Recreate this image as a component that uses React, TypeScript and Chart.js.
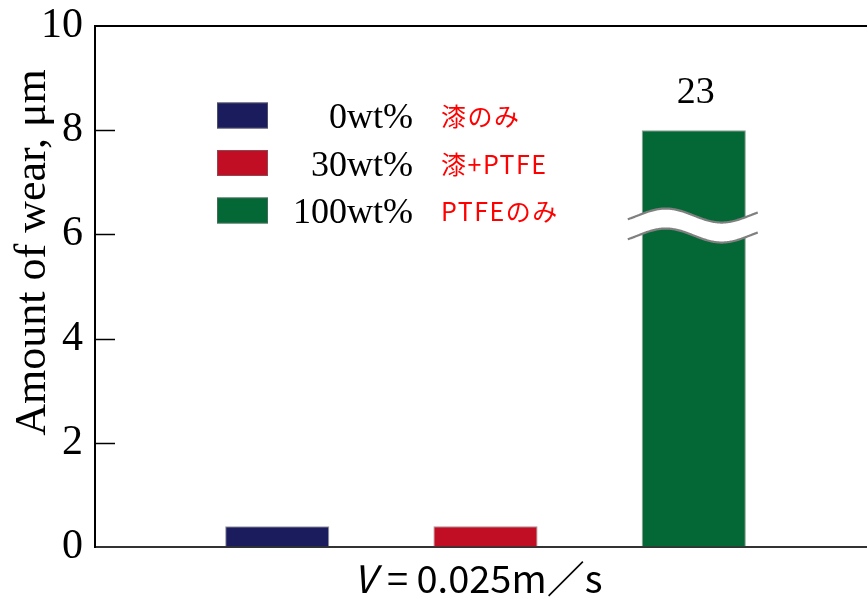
import React, { useEffect, useRef } from "react";
import { Chart, registerables } from "chart.js";

Chart.register(...registerables);

// ---- data ----
const categories = ["V = 0.025m／s"];
const seriesLabels = ["0wt%", "30wt%", "100wt%"];
const seriesNotes = ["漆のみ", "漆+PTFE", "PTFEのみ"];
const wearValues = [0.4, 0.4, 23];
const seriesColors = ["#1b1c5e", "#c20e24", "#036835"];
const yTicks = [0, 2, 4, 6, 8, 10];
const yTitle = "Amount of wear, μm";
const Y_MAX = 10;
const BROKEN_BAR_VALUE = 8; // drawn height of a bar that exceeds the axis
const BREAK_AT = 6.17; // axis value where the break mark sits

const SERIF = '"Liberation Serif", "Times New Roman", serif';
const SANS_JP = '"Noto Sans CJK JP", "Noto Sans", sans-serif';

const decorPlugin = {
  id: "decor",
  afterDatasetsDraw(chart: any) {
    const { ctx, chartArea: ca, scales } = chart;
    const y = scales.y;
    const x = scales.x;
    ctx.save();

    // top frame line
    ctx.strokeStyle = "#000";
    ctx.lineWidth = 2;
    ctx.beginPath();
    ctx.moveTo(ca.left, ca.top);
    ctx.lineTo(ca.right, ca.top);
    ctx.stroke();

    // inward tick marks
    ctx.lineWidth = 1.5;
    yTicks.forEach((v) => {
      if (v === 0 || v === Y_MAX) return;
      const py = Math.round(y.getPixelForValue(v)) + 0.5;
      ctx.beginPath();
      ctx.moveTo(ca.left, py);
      ctx.lineTo(ca.left + 20, py);
      ctx.stroke();
    });

    // break marks + true value labels
    wearValues.forEach((v, i) => {
      if (v <= Y_MAX) return;
      const bar = chart.getDatasetMeta(i).data[0];
      const cx = bar.x;
      const c = y.getPixelForValue(BREAK_AT);
      const x0 = cx - 66;
      const x1 = cx + 64;
      const crest = cx - 28;
      const f = (px: number) => c - 10 - 7 * Math.cos((2 * Math.PI * (px - crest)) / 112);
      ctx.beginPath();
      for (let px = x0; px <= x1; px++) {
        if (px === x0) ctx.moveTo(px, f(px));
        else ctx.lineTo(px, f(px));
      }
      for (let px = x1; px >= x0; px--) ctx.lineTo(px, f(px) + 20);
      ctx.closePath();
      ctx.fillStyle = "#fff";
      ctx.fill();
      ctx.strokeStyle = "#808080";
      ctx.lineWidth = 2.2;
      [0, 20].forEach((off) => {
        ctx.beginPath();
        for (let px = x0; px <= x1; px++) {
          if (px === x0) ctx.moveTo(px, f(px) + off);
          else ctx.lineTo(px, f(px) + off);
        }
        ctx.stroke();
      });
      ctx.fillStyle = "#000";
      ctx.font = `38px ${SERIF}`;
      ctx.textAlign = "center";
      ctx.textBaseline = "alphabetic";
      ctx.fillText(String(v), cx + 2, bar.y - 27);
    });

    // legend
    const boxLeft = 217, boxW = 51, boxH = 26, textRight = 413, noteLeft = 441;
    const rowTop = 115.5, rowGap = 47.5;
    chart.data.datasets.forEach((ds: any, i: number) => {
      const cy = rowTop + i * rowGap;
      ctx.fillStyle = ds.backgroundColor;
      ctx.fillRect(boxLeft, cy - boxH / 2, boxW, boxH);
      ctx.strokeStyle = "rgba(110,110,110,0.6)";
      ctx.lineWidth = 1;
      ctx.strokeRect(boxLeft + 0.5, cy - boxH / 2 + 0.5, boxW - 1, boxH - 1);
      ctx.fillStyle = "#000";
      ctx.font = `36px ${SERIF}`;
      ctx.textAlign = "right";
      ctx.textBaseline = "alphabetic";
      ctx.fillText(ds.label, textRight, cy + 12.5);
      ctx.fillStyle = "#ff0000";
      ctx.font = `25px ${SANS_JP}`;
      ctx.textAlign = "left";
      ctx.textBaseline = "middle";
      (ctx as any).letterSpacing = "1.5px";
      ctx.fillText(seriesNotes[i], noteLeft, cy + 1);
      (ctx as any).letterSpacing = "0px";
    });

    // y title
    ctx.save();
    ctx.translate(45, (ca.top + ca.bottom) / 2 - 34);
    ctx.rotate(-Math.PI / 2);
    ctx.fillStyle = "#000";
    ctx.font = `44px ${SERIF}`;
    ctx.textAlign = "center";
    ctx.textBaseline = "alphabetic";
    ctx.fillText(yTitle, 0, 0);
    ctx.restore();

    // x category label with italic V
    const label = categories[0];
    const head = label.slice(0, 1);
    const rest = label.slice(1);
    ctx.fillStyle = "#000";
    ctx.textAlign = "left";
    ctx.textBaseline = "alphabetic";
    ctx.font = `italic 38px ${SANS_JP}`;
    const wHead = ctx.measureText(head).width;
    ctx.font = `38px ${SANS_JP}`;
    const wRest = ctx.measureText(rest).width;
    const center = x.getPixelForValue(0) - 9;
    const start = center - (wHead + wRest) / 2;
    ctx.font = `italic 38px ${SANS_JP}`;
    ctx.fillText(head, start, ca.bottom + 46);
    ctx.font = `38px ${SANS_JP}`;
    ctx.fillText(rest, start + wHead + 3, ca.bottom + 46);

    ctx.restore();
  },
};

export default function App() {
  const ref = useRef<HTMLCanvasElement | null>(null);

  useEffect(() => {
    if (!ref.current) return;
    const chart = new Chart(ref.current, {
      type: "bar",
      data: {
        labels: categories,
        datasets: seriesLabels.map((label, i) => ({
          label,
          data: [wearValues[i] > Y_MAX ? BROKEN_BAR_VALUE : wearValues[i]],
          backgroundColor: seriesColors[i],
          borderColor: "rgba(70,70,70,0.55)",
          borderWidth: 1,
          categoryPercentage: 0.8,
          barPercentage: 0.5,
        })),
      },
      options: {
        responsive: false,
        maintainAspectRatio: false,
        animation: false,
        layout: { padding: { top: 26, left: 0, right: 4, bottom: 54 } },
        plugins: {
          legend: { display: false },
          tooltip: { enabled: false },
        },
        scales: {
          x: {
            type: "category",
            ticks: { display: false },
            grid: { drawOnChartArea: false, drawTicks: false },
            border: { display: true, color: "#333", width: 2 },
            afterFit: (s: any) => {
              s.height = 0;
              s.paddingLeft = 0;
              s.paddingRight = 0;
            },
          },
          y: {
            min: 0,
            max: Y_MAX,
            ticks: {
              stepSize: 2,
              color: "#000",
              padding: 12,
              font: { family: SERIF, size: 42 },
            },
            grid: { drawOnChartArea: false, drawTicks: false },
            border: { display: true, color: "#000", width: 2 },
            afterFit: (s: any) => {
              s.width = 95;
              s.paddingTop = 0;
              s.paddingBottom = 0;
            },
          },
        },
      } as any,
      plugins: [decorPlugin],
    });
    return () => chart.destroy();
  }, []);

  return (
    <div
      style={{
        position: "fixed",
        left: 0,
        top: 0,
        width: 867,
        height: 601,
        overflow: "hidden",
        background: "#fff",
      }}
    >
      <canvas
        ref={ref}
        width={880}
        height={601}
        style={{ display: "block", width: 880, height: 601 }}
      />
    </div>
  );
}
